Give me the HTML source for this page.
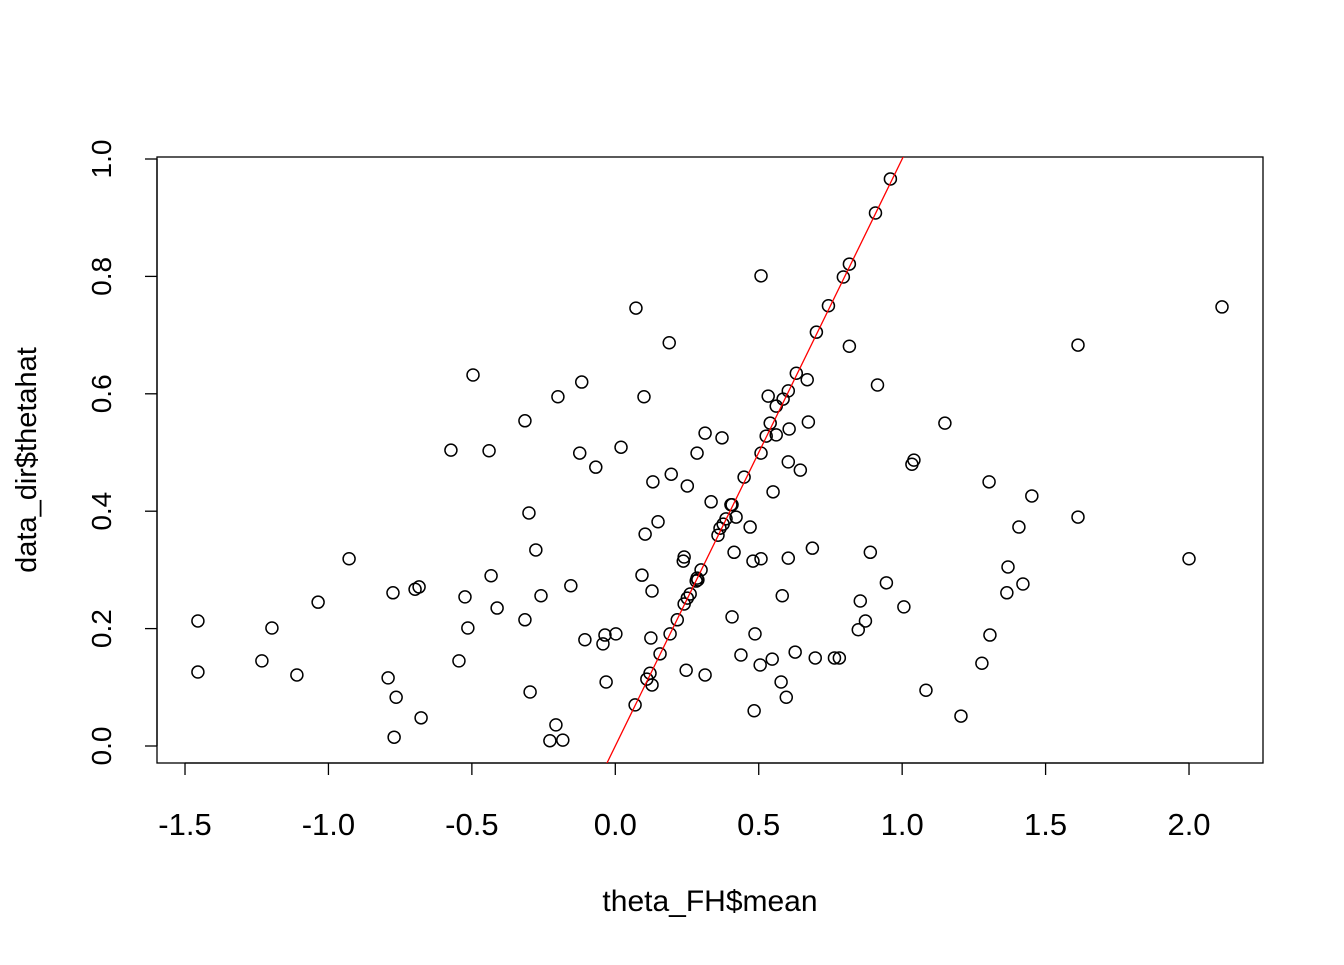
<!DOCTYPE html>
<html><head><meta charset="utf-8"><style>
html,body{margin:0;padding:0;background:#fff;}
svg text{font-family:"Liberation Sans",Arial,sans-serif;fill:#000;}
</style></head><body>
<svg id="chart" width="1344" height="960" xmlns="http://www.w3.org/2000/svg">
<rect x="157" y="157" width="1106" height="606" fill="none" stroke="#000" stroke-width="1.3"/>
<g id="xaxis"></g>
<g id="yaxis"></g>
<g id="points"></g>
<g id="lineg"></g>
<text x="710" y="911" font-size="30" text-anchor="middle">theta_FH$mean</text>
<text transform="translate(36,460) rotate(-90)" font-size="29" text-anchor="middle">data_dir$thetahat</text>
</svg>
<script>
const xTicks=[-1.5,-1.0,-0.5,0.0,0.5,1.0,1.5,2.0];
const xTickLabels=["-1.5","-1.0","-0.5","0.0","0.5","1.0","1.5","2.0"];
const yTicks=[0.0,0.2,0.4,0.6,0.8,1.0];
const yTickLabels=["0.0","0.2","0.4","0.6","0.8","1.0"];
const xVals=[-1.455,-1.455,-1.232,-1.197,-1.110,-1.036,-0.928,-0.792,-0.775,-0.764,-0.771,-0.698,-0.684,-0.677,-0.573,-0.545,-0.524,-0.514,-0.496,-0.440,-0.433,-0.412,-0.315,-0.315,-0.301,-0.297,-0.277,-0.259,-0.228,-0.207,-0.200,-0.183,-0.155,-0.124,-0.117,-0.106,-0.068,-0.043,-0.036,-0.032,0.002,0.020,0.069,0.072,0.093,0.100,0.104,0.110,0.121,0.124,0.128,0.128,0.131,0.149,0.156,0.188,0.191,0.195,0.216,0.237,0.240,0.240,0.247,0.251,0.251,0.261,0.282,0.285,0.285,0.288,0.299,0.313,0.313,0.334,0.358,0.365,0.372,0.376,0.386,0.403,0.407,0.407,0.414,0.421,0.438,0.449,0.470,0.480,0.484,0.487,0.508,0.505,0.508,0.508,0.526,0.533,0.540,0.547,0.550,0.561,0.561,0.578,0.582,0.585,0.596,0.603,0.603,0.603,0.606,0.627,0.631,0.645,0.669,0.673,0.687,0.697,0.701,0.743,0.764,0.781,0.795,0.816,0.816,0.847,0.854,0.872,0.889,0.907,0.914,0.945,0.959,1.006,1.034,1.041,1.083,1.149,1.205,1.278,1.303,1.306,1.365,1.369,1.407,1.421,1.452,1.613,1.613,2.000,2.115];
const yVals=[0.213,0.126,0.145,0.201,0.121,0.245,0.319,0.116,0.261,0.083,0.015,0.267,0.271,0.048,0.504,0.145,0.254,0.201,0.632,0.503,0.290,0.235,0.554,0.215,0.397,0.092,0.334,0.256,0.009,0.036,0.595,0.010,0.273,0.499,0.620,0.181,0.475,0.174,0.189,0.109,0.191,0.509,0.070,0.746,0.291,0.595,0.361,0.114,0.124,0.184,0.104,0.264,0.450,0.382,0.157,0.687,0.191,0.463,0.215,0.315,0.322,0.242,0.129,0.443,0.252,0.259,0.281,0.499,0.286,0.283,0.300,0.121,0.533,0.416,0.359,0.371,0.525,0.378,0.387,0.411,0.220,0.411,0.330,0.390,0.155,0.458,0.373,0.315,0.060,0.191,0.499,0.138,0.319,0.801,0.528,0.596,0.550,0.148,0.433,0.579,0.530,0.109,0.256,0.591,0.083,0.605,0.484,0.320,0.540,0.160,0.635,0.470,0.624,0.552,0.337,0.150,0.705,0.750,0.150,0.150,0.799,0.821,0.681,0.198,0.247,0.213,0.330,0.908,0.615,0.278,0.966,0.237,0.480,0.487,0.095,0.550,0.051,0.141,0.450,0.189,0.261,0.305,0.373,0.276,0.426,0.683,0.390,0.319,0.748];
const lineIntercept=0, lineSlope=1;
const NS="http://www.w3.org/2000/svg";
const X=v=>615.3+v*286.86, Y=v=>746-v*587;
function mk(tag,attrs,parent){const e=document.createElementNS(NS,tag);for(const k in attrs)e.setAttribute(k,attrs[k]);parent.appendChild(e);return e;}
const xa=document.getElementById('xaxis'),ya=document.getElementById('yaxis'),pg=document.getElementById('points'),lg=document.getElementById('lineg');
mk('line',{x1:X(xTicks[0]),x2:X(xTicks[xTicks.length-1]),y1:763,y2:763,stroke:'#000','stroke-width':1.3},xa);
xTicks.forEach((t,i)=>{
 const l=mk('line',{x1:X(t),x2:X(t),y1:763,y2:775,stroke:'#000','stroke-width':1.3},xa);
 
 
 const tx=mk('text',{x:X(t),y:835,'font-size':31,'text-anchor':'middle'},xa);tx.textContent=xTickLabels[i];
 
 
});
mk('line',{x1:157,x2:157,y1:Y(yTicks[0]),y2:Y(yTicks[yTicks.length-1]),stroke:'#000','stroke-width':1.3},ya);
yTicks.forEach((t,i)=>{
 const l=mk('line',{x1:145,x2:157,y1:Y(t),y2:Y(t),stroke:'#000','stroke-width':1.3},ya);
 
 
 const tx=mk('text',{transform:`translate(111,${Y(t)}) rotate(-90)`,'font-size':28,'text-anchor':'middle'},ya);tx.textContent=yTickLabels[i];
 
 
});
xVals.forEach((v,i)=>{
 const c=mk('circle',{cx:X(v),cy:Y(yVals[i]),r:6,fill:'none',stroke:'#000','stroke-width':1.5},pg);
 
 
});
const cp=mk('clipPath',{id:'clip'},document.getElementById('chart'));mk('rect',{x:157,y:157,width:1106,height:606},cp);
const x0=-0.1,x1=1.2;
const ln=mk('line',{x1:X(x0),y1:Y(lineIntercept+lineSlope*x0),x2:X(x1),y2:Y(lineIntercept+lineSlope*x1),stroke:'#ff0000','stroke-width':1.3,'clip-path':'url(#clip)'},lg);


</script>
</body></html>
